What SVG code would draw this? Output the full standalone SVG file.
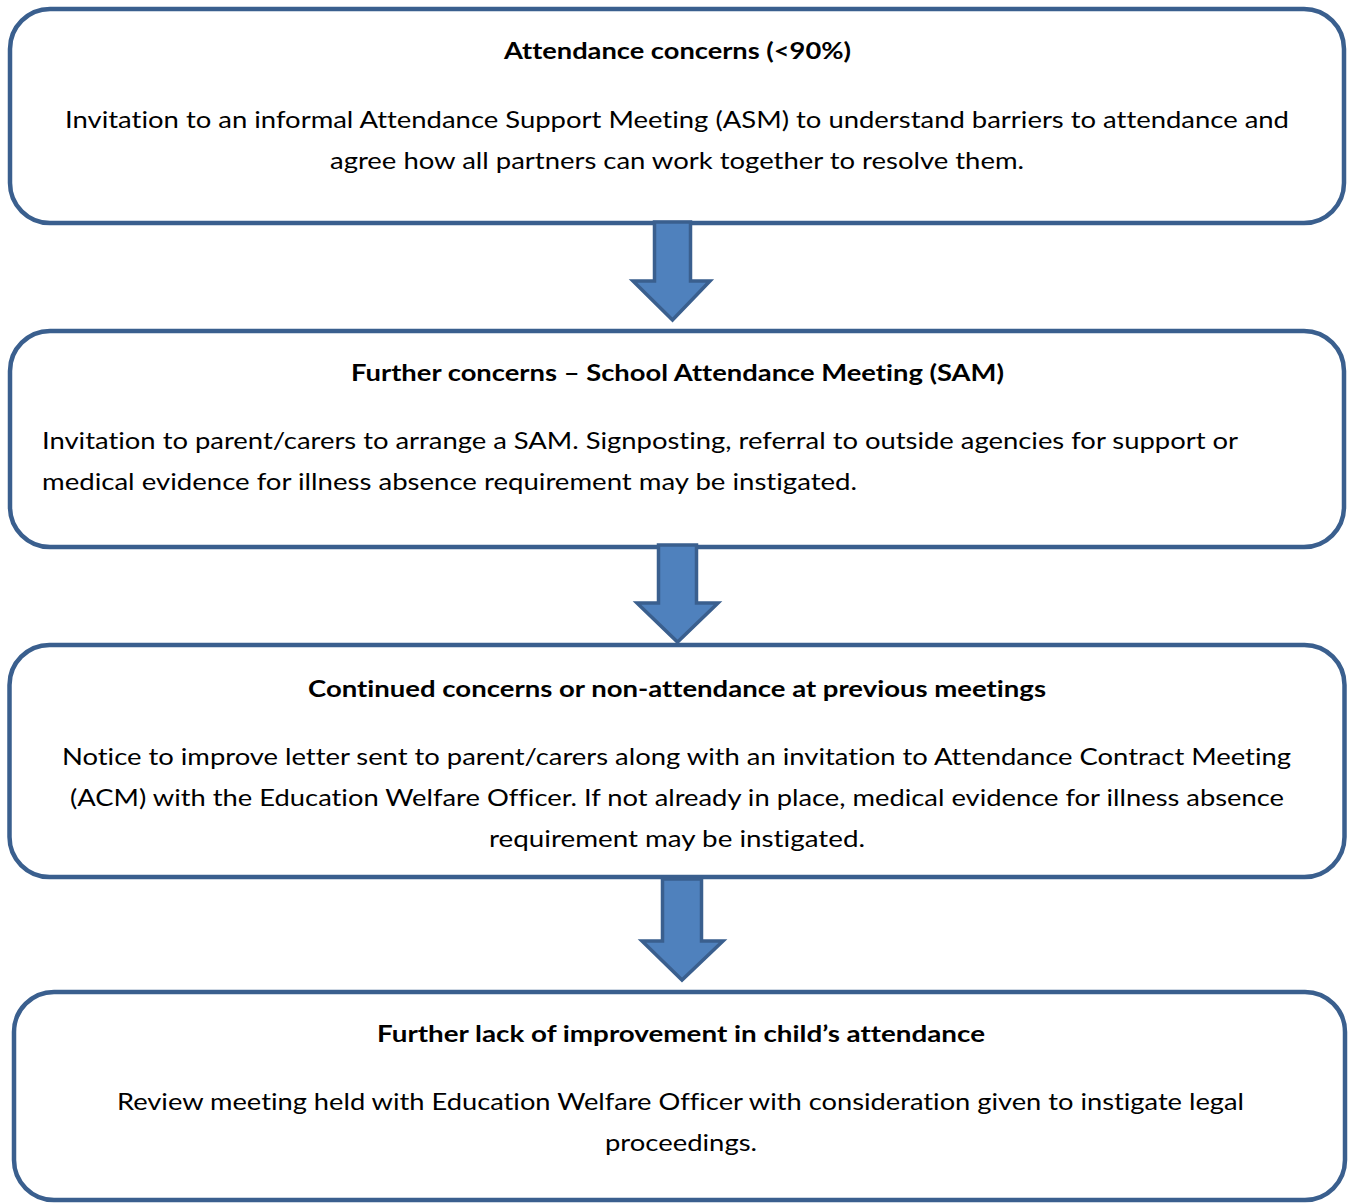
<svg xmlns="http://www.w3.org/2000/svg" width="1349" height="1204" viewBox="0 0 1349 1204">
<style>
.box{fill:#ffffff;stroke:#3A5F8E;stroke-width:4.5}
.arrow{fill:#4F81BD;stroke:#3A5F8E;stroke-width:3.5;stroke-linejoin:miter}
text{font-family:Lato,"Noto Sans","Liberation Sans",sans-serif;font-size:23px;fill:#000000;font-variant-ligatures:none;font-feature-settings:"liga" 0,"dlig" 0}
.t{font-weight:bold}
</style>
<rect width="1349" height="1204" fill="#ffffff"/>
<g id="node1">
<rect class="box" x="10" y="9" width="1334" height="214" rx="40" ry="40"/>
<text class="t" x="504" y="59" textLength="347" lengthAdjust="spacingAndGlyphs">Attendance concerns (&lt;90%)</text>
<text x="65" y="128" textLength="1224" lengthAdjust="spacingAndGlyphs">Invitation to an informal Attendance Support Meeting (ASM) to understand barriers to attendance and</text>
<text x="330" y="169" textLength="694" lengthAdjust="spacingAndGlyphs">agree how all partners can work together to resolve them.</text>
</g>
<g id="node2">
<rect class="box" x="10" y="331" width="1334" height="216" rx="40" ry="40"/>
<text class="t" x="351" y="381" textLength="653" lengthAdjust="spacingAndGlyphs">Further concerns – School Attendance Meeting (SAM)</text>
<text x="42" y="449" textLength="1196" lengthAdjust="spacingAndGlyphs">Invitation to parent/carers to arrange a SAM. Signposting, referral to outside agencies for support or</text>
<text x="42" y="490" textLength="815" lengthAdjust="spacingAndGlyphs">medical evidence for illness absence requirement may be instigated.</text>
</g>
<g id="node3">
<rect class="box" x="9.5" y="645" width="1335" height="232" rx="40" ry="40"/>
<text class="t" x="308" y="697" textLength="738" lengthAdjust="spacingAndGlyphs">Continued concerns or non-attendance at previous meetings</text>
<text x="62" y="765" textLength="1229" lengthAdjust="spacingAndGlyphs">Notice to improve letter sent to parent/carers along with an invitation to Attendance Contract Meeting</text>
<text x="70" y="806" textLength="1214" lengthAdjust="spacingAndGlyphs">(ACM) with the Education Welfare Officer. If not already in place, medical evidence for illness absence</text>
<text x="489" y="847" textLength="376" lengthAdjust="spacingAndGlyphs">requirement may be instigated.</text>
</g>
<g id="node4">
<rect class="box" x="14" y="992" width="1331" height="208" rx="40" ry="40"/>
<text class="t" x="377" y="1042" textLength="608" lengthAdjust="spacingAndGlyphs">Further lack of improvement in child’s attendance</text>
<text x="117" y="1110" textLength="1127" lengthAdjust="spacingAndGlyphs">Review meeting held with Education Welfare Officer with consideration given to instigate legal</text>
<text x="605" y="1151" textLength="152" lengthAdjust="spacingAndGlyphs">proceedings.</text>
</g>
<g id="connectors">
<path class="arrow" d="M654.5,222 L690.5,222 L690.5,281 L710,281 L672.5,320 L633,281 L654.5,281 Z"/>
<path class="arrow" d="M658.5,545 L696.5,545 L696.5,603 L718,603 L677.5,642 L637,603 L658.5,603 Z"/>
<path class="arrow" d="M662.5,879 L701.5,879 L701.5,941 L723,941 L682,980 L642,941 L662.5,941 Z"/>
</g>
</svg>
